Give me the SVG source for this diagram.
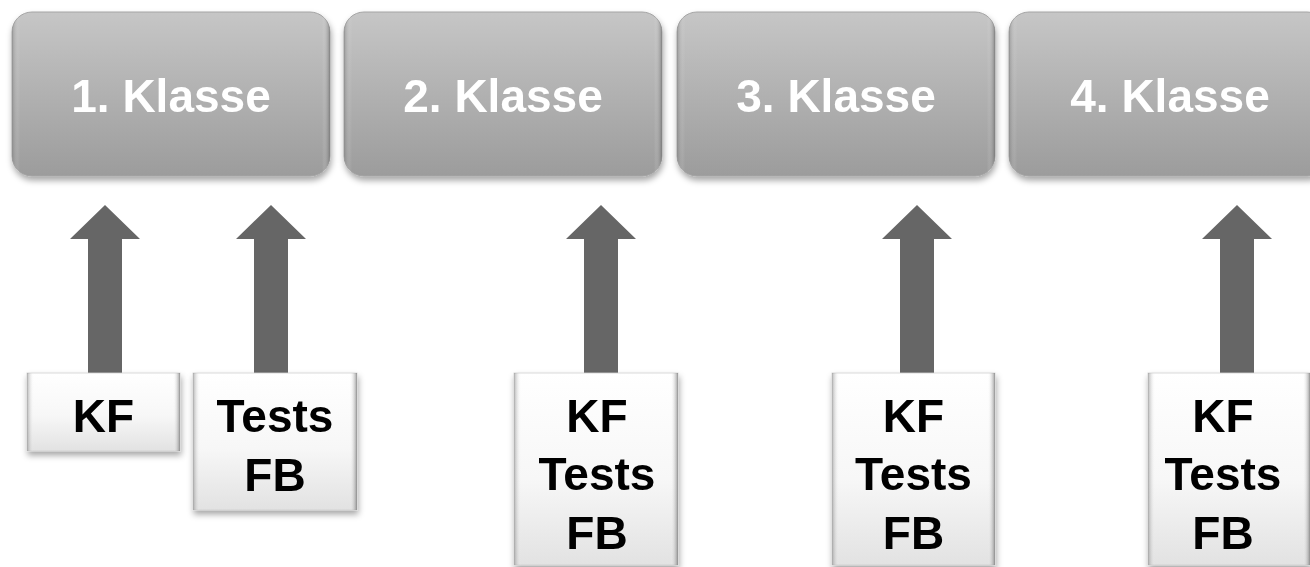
<svg xmlns="http://www.w3.org/2000/svg" width="1310" height="567" viewBox="0 0 1310 567">
  <defs>
    <linearGradient id="gradGrey" x1="0" y1="0" x2="0" y2="1">
      <stop offset="0" stop-color="#c6c6c6"/>
      <stop offset="1" stop-color="#9c9c9c"/>
    </linearGradient>
    <linearGradient id="gradWhite" x1="0" y1="0" x2="0" y2="1">
      <stop offset="0" stop-color="#ffffff"/>
      <stop offset="0.55" stop-color="#f7f7f7"/>
      <stop offset="1" stop-color="#e2e2e2"/>
    </linearGradient>
    <linearGradient id="bevelSides" x1="0" y1="0" x2="1" y2="0">
      <stop offset="0" stop-color="#7a7a7a" stop-opacity="0.55"/>
      <stop offset="0.045" stop-color="#ffffff" stop-opacity="0"/>
      <stop offset="0.955" stop-color="#ffffff" stop-opacity="0"/>
      <stop offset="1" stop-color="#5a5a5a" stop-opacity="0.6"/>
    </linearGradient>
    <linearGradient id="bevelGrey" x1="0" y1="0" x2="1" y2="0">
      <stop offset="0" stop-color="#6e6e6e" stop-opacity="0.45"/>
      <stop offset="0.025" stop-color="#ffffff" stop-opacity="0"/>
      <stop offset="0.975" stop-color="#ffffff" stop-opacity="0"/>
      <stop offset="1" stop-color="#5a5a5a" stop-opacity="0.55"/>
    </linearGradient>
    <filter id="shadow" x="-10%" y="-10%" width="125%" height="130%">
      <feDropShadow dx="1" dy="4" stdDeviation="3" flood-color="#000" flood-opacity="0.35"/>
    </filter>
  </defs>
  <style>
    .klasse { fill: url(#gradGrey); stroke: #a4a4a4; stroke-width: 1; }
    .bevel-g { fill: url(#bevelGrey); }
    .card { fill: url(#gradWhite); stroke: #cfcfcf; stroke-width: 0.8; }
    .bevel-w { fill: url(#bevelSides); }
    .title { font-family: "Liberation Sans", Arial, sans-serif; font-weight: bold; font-size: 46px; fill: #ffffff; text-anchor: middle; }
    .label { font-family: "Liberation Sans", Arial, sans-serif; font-weight: bold; font-size: 46px; fill: #000000; text-anchor: middle; }
    .arrow { fill: #666666; }
  </style>

  <rect width="1310" height="567" fill="#ffffff"/>

  <!-- class boxes -->
  <g id="klasse1" filter="url(#shadow)">
    <rect class="klasse" x="12" y="12" width="318" height="164" rx="20"/>
    <rect class="bevel-g" x="12" y="12" width="318" height="164" rx="20"/>
    <text class="title" x="171" y="112">1. Klasse</text>
  </g>
  <g id="klasse2" filter="url(#shadow)">
    <rect class="klasse" x="344" y="12" width="318" height="164" rx="20"/>
    <rect class="bevel-g" x="344" y="12" width="318" height="164" rx="20"/>
    <text class="title" x="503" y="112">2. Klasse</text>
  </g>
  <g id="klasse3" filter="url(#shadow)">
    <rect class="klasse" x="677" y="12" width="318" height="164" rx="20"/>
    <rect class="bevel-g" x="677" y="12" width="318" height="164" rx="20"/>
    <text class="title" x="836" y="112">3. Klasse</text>
  </g>
  <g id="klasse4" filter="url(#shadow)">
    <rect class="klasse" x="1009" y="12" width="318" height="164" rx="20"/>
    <rect class="bevel-g" x="1009" y="12" width="318" height="164" rx="20"/>
    <text class="title" x="1170" y="112">4. Klasse</text>
  </g>

  <!-- upward arrows -->
  <g id="connectors">
    <polygon class="arrow" points="105,205 140,239 122,239 122,373 88,373 88,239 70,239"/>
    <polygon class="arrow" points="271,205 306,239 288,239 288,373 254,373 254,239 236,239"/>
    <polygon class="arrow" points="601,205 636,239 618,239 618,373 584,373 584,239 566,239"/>
    <polygon class="arrow" points="917,205 952,239 934,239 934,373 900,373 900,239 882,239"/>
    <polygon class="arrow" points="1237,205 1272,239 1254,239 1254,373 1220,373 1220,239 1202,239"/>
  </g>

  <!-- assessment cards -->
  <g id="card1a" filter="url(#shadow)">
    <rect class="card" x="27" y="373" width="153" height="78"/>
    <rect class="bevel-w" x="27" y="373" width="153" height="78"/>
    <text class="label" x="103.5" y="432">KF</text>
  </g>
  <g id="card1b" filter="url(#shadow)">
    <rect class="card" x="193" y="373" width="164" height="137"/>
    <rect class="bevel-w" x="193" y="373" width="164" height="137"/>
    <text class="label" x="275" y="432">Tests</text>
    <text class="label" x="275" y="491">FB</text>
  </g>
  <g id="card2" filter="url(#shadow)">
    <rect class="card" x="514" y="373" width="164" height="192"/>
    <rect class="bevel-w" x="514" y="373" width="164" height="192"/>
    <text class="label" x="597" y="432">KF</text>
    <text class="label" x="597" y="490">Tests</text>
    <text class="label" x="597" y="549">FB</text>
  </g>
  <g id="card3" filter="url(#shadow)">
    <rect class="card" x="832" y="373" width="163" height="192"/>
    <rect class="bevel-w" x="832" y="373" width="163" height="192"/>
    <text class="label" x="913.5" y="432">KF</text>
    <text class="label" x="913.5" y="490">Tests</text>
    <text class="label" x="913.5" y="549">FB</text>
  </g>
  <g id="card4" filter="url(#shadow)">
    <rect class="card" x="1148" y="373" width="162" height="192"/>
    <rect class="bevel-w" x="1148" y="373" width="162" height="192"/>
    <text class="label" x="1223" y="432">KF</text>
    <text class="label" x="1223" y="490">Tests</text>
    <text class="label" x="1223" y="549">FB</text>
  </g>
</svg>
